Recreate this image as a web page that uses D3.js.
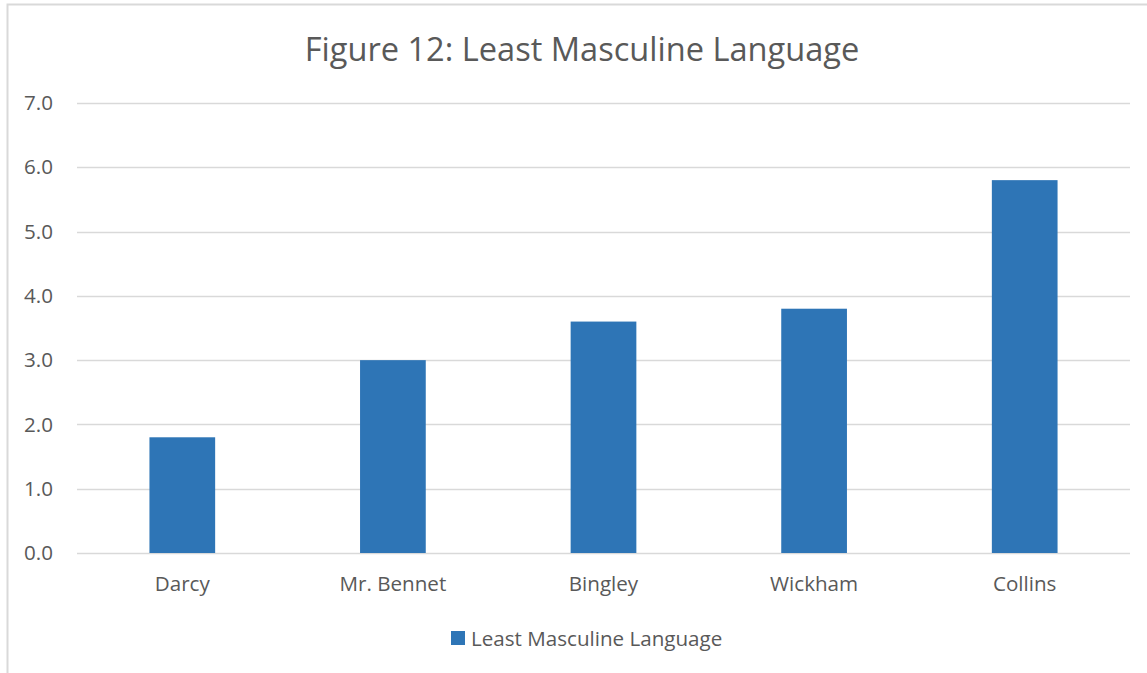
<!DOCTYPE html>
<html>
<head>
<meta charset="utf-8">
<script src="https://cdn.jsdelivr.net/npm/d3@7"></script>
<style>
  html, body { margin: 0; padding: 0; background: #fff; }
  svg { display: block; font-family: "Open Sans", "Noto Sans", sans-serif; }
</style>
</head>
<body>
<svg id="chart" width="1147" height="673"></svg>
<script>
// Chart data
const categories = ["Darcy", "Mr. Bennet", "Bingley", "Wickham", "Collins"];
const values = [1.8, 3.0, 3.6, 3.8, 5.8];
const yTicks = [0, 1, 2, 3, 4, 5, 6, 7];
const seriesName = "Least Masculine Language";
const titleText = "Figure 12: Least Masculine Language";

const W = 1147, H = 673;
const margin = { left: 77, right: 17, top: 103, bottom: 120 };
const textColor = "#595959";
const gridColor = "#d9d9d9";
const barColor = "#2e75b6";
const labelSize = 20.6;

const svg = d3.select("#chart");

// Chart area frame
svg.append("rect")
  .attr("x", 7.5).attr("y", 4.5)
  .attr("width", W + 10).attr("height", H + 10)
  .attr("fill", "#fff")
  .attr("stroke", gridColor)
  .attr("stroke-width", 2);

const x = d3.scaleBand()
  .domain(categories)
  .range([margin.left, W - margin.right])
  .paddingInner(0.688)
  .paddingOuter(0.344);

const y = d3.scaleLinear()
  .domain([0, 7])
  .range([H - margin.bottom, margin.top]);

// Title
svg.append("text")
  .attr("x", 582).attr("y", 61)
  .attr("text-anchor", "middle")
  .attr("fill", textColor)
  .attr("font-size", 32.6)
  .text(titleText);

// Horizontal gridlines
svg.append("g")
  .selectAll("line")
  .data(yTicks)
  .join("line")
  .attr("x1", margin.left).attr("x2", W - margin.right)
  .attr("y1", d => Math.round(y(d)) + 0.5)
  .attr("y2", d => Math.round(y(d)) + 0.5)
  .attr("stroke", gridColor)
  .attr("stroke-width", 1.3);

// Y axis labels
const yAxis = d3.axisLeft(y)
  .tickValues(yTicks)
  .tickFormat(d3.format(".1f"))
  .tickSize(0)
  .tickPadding(24);
const gy = svg.append("g")
  .attr("transform", `translate(${margin.left},0)`)
  .call(yAxis);
gy.select(".domain").remove();
gy.selectAll("text")
  .attr("fill", textColor)
  .attr("font-size", labelSize)
  .attr("font-family", "'Open Sans', sans-serif");

// Bars
svg.append("g")
  .selectAll("rect")
  .data(categories)
  .join("rect")
  .attr("x", d => x(d))
  .attr("width", x.bandwidth())
  .attr("y", (d, i) => y(values[i]))
  .attr("height", (d, i) => y(0) - y(values[i]))
  .attr("fill", barColor);

// X axis labels
const xAxis = d3.axisBottom(x).tickSize(0).tickPadding(23);
const gx = svg.append("g")
  .attr("transform", `translate(0,${y(0)})`)
  .call(xAxis);
gx.select(".domain").remove();
gx.selectAll("text")
  .attr("fill", textColor)
  .attr("font-size", labelSize)
  .attr("font-family", "'Open Sans', sans-serif");

// Legend
const legend = svg.append("g").attr("transform", "translate(451,631)");
legend.append("rect")
  .attr("width", 14).attr("height", 14)
  .attr("fill", barColor);
legend.append("text")
  .attr("x", 20).attr("y", 14.5)
  .attr("fill", textColor)
  .attr("font-size", labelSize)
  .text(seriesName);
</script>
</body>
</html>
